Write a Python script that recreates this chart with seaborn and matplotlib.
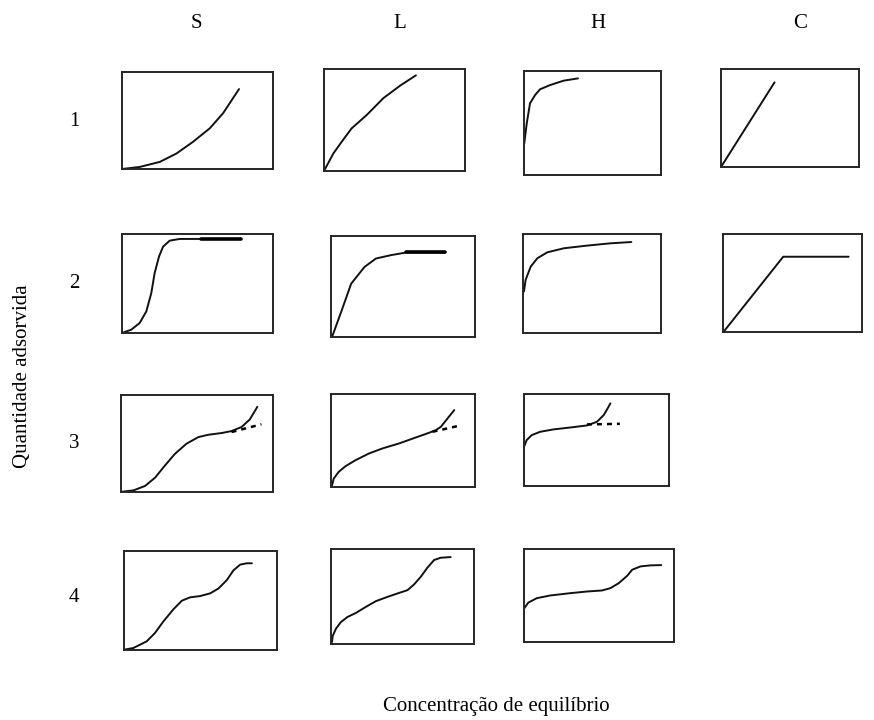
import numpy as np
import pandas as pd
import matplotlib
matplotlib.use("Agg")
import matplotlib.pyplot as plt
import seaborn as sns

sns.set_theme(style="white")
plt.rcParams['font.family'] = ['Liberation Serif', 'DejaVu Serif']

# ---------------- data (normalised: concentration x, amount adsorbed y) -------------
col_labels = ["S", "L", "H", "C"]
row_labels = ["1", "2", "3", "4"]
xlabel_text = "Concentração de equilíbrio"
ylabel_text = "Quantidade adsorvida"

s1_x = [0.0, 0.117, 0.250, 0.360, 0.470, 0.581, 0.669, 0.775]
s1_y = [0.0, 0.021, 0.073, 0.159, 0.280, 0.419, 0.574, 0.824]

l1_x = [0.0, 0.066, 0.125, 0.196, 0.303, 0.421, 0.539, 0.652]
l1_y = [0.0, 0.171, 0.286, 0.418, 0.549, 0.714, 0.836, 0.938]

h1_x = [0.002, 0.020, 0.044, 0.081, 0.117, 0.191, 0.289, 0.394]
h1_y = [0.304, 0.497, 0.689, 0.769, 0.824, 0.865, 0.907, 0.929]

c1_x = [0.0, 0.388]
c1_y = [0.0, 0.864]

s2_x = [0.0, 0.062, 0.117, 0.161, 0.194, 0.216, 0.245, 0.272, 0.316, 0.382, 0.525, 0.790]
s2_y = [0.0, 0.034, 0.101, 0.218, 0.403, 0.604, 0.772, 0.872, 0.933, 0.950, 0.950, 0.950]
s2_plateau_x = [0.525, 0.790]
s2_plateau_y = [0.950, 0.950]

l2_x = [0.008, 0.074, 0.140, 0.233, 0.312, 0.418, 0.524, 0.794]
l2_y = [0.003, 0.262, 0.528, 0.694, 0.777, 0.811, 0.837, 0.837]
l2_plateau_x = [0.524, 0.794]
l2_plateau_y = [0.837, 0.837]

h2_x = [0.007, 0.019, 0.056, 0.104, 0.176, 0.297, 0.466, 0.635, 0.785]
h2_y = [0.419, 0.537, 0.671, 0.755, 0.815, 0.856, 0.883, 0.906, 0.919]

c2_x = [0.007, 0.433, 0.904]
c2_y = [0.007, 0.768, 0.768]

s3_x = [0.007, 0.083, 0.159, 0.225, 0.288, 0.354, 0.430, 0.509, 0.574, 0.662, 0.727, 0.793, 0.847, 0.897]
s3_y = [0.003, 0.017, 0.063, 0.149, 0.271, 0.392, 0.497, 0.566, 0.590, 0.608, 0.628, 0.670, 0.747, 0.878]
s3_dash_x = [0.727, 0.924]
s3_dash_y = [0.618, 0.698]

l3_x = [0.007, 0.019, 0.053, 0.100, 0.170, 0.263, 0.356, 0.472, 0.588, 0.681, 0.728, 0.763, 0.809, 0.856]
l3_y = [0.018, 0.090, 0.162, 0.223, 0.288, 0.360, 0.414, 0.468, 0.532, 0.583, 0.612, 0.647, 0.737, 0.827]
l3_dash_x = [0.705, 0.879]
l3_dash_y = [0.594, 0.655]

h3_x = [0.0, 0.018, 0.053, 0.111, 0.203, 0.319, 0.434, 0.503, 0.550, 0.577, 0.596]
h3_y = [0.425, 0.498, 0.553, 0.589, 0.615, 0.636, 0.658, 0.698, 0.771, 0.844, 0.898]
h3_dash_x = [0.434, 0.661]
h3_dash_y = [0.669, 0.676]

s4_x = [0.0, 0.061, 0.148, 0.202, 0.257, 0.323, 0.378, 0.432, 0.498, 0.563, 0.618, 0.672, 0.716, 0.760, 0.803, 0.836]
s4_y = [0.003, 0.020, 0.087, 0.171, 0.288, 0.411, 0.498, 0.532, 0.545, 0.572, 0.622, 0.706, 0.806, 0.863, 0.876, 0.876]

l4_x = [0.007, 0.012, 0.035, 0.070, 0.116, 0.174, 0.244, 0.314, 0.395, 0.465, 0.535, 0.581, 0.628, 0.674, 0.721, 0.767, 0.837]
l4_y = [0.021, 0.085, 0.162, 0.232, 0.285, 0.327, 0.391, 0.451, 0.496, 0.532, 0.567, 0.627, 0.708, 0.803, 0.884, 0.908, 0.915]

h4_x = [0.002, 0.029, 0.085, 0.174, 0.308, 0.420, 0.520, 0.576, 0.632, 0.688, 0.721, 0.777, 0.844, 0.915]
h4_y = [0.363, 0.424, 0.471, 0.500, 0.525, 0.543, 0.554, 0.579, 0.633, 0.712, 0.777, 0.813, 0.824, 0.827]

# --------------- layout (pixel boxes: left, top, right, bottom) ----------------------
W, H = 874, 720
panels = [
    # (box, curve, thick overlay, dashed overlay)
    ((122, 72, 273, 169), (s1_x, s1_y), None, None),
    ((324, 69, 465, 171), (l1_x, l1_y), None, None),
    ((524, 71, 661, 175), (h1_x, h1_y), None, None),
    ((721, 69, 859, 167), (c1_x, c1_y), None, None),
    ((122, 234, 273, 333), (s2_x, s2_y), (s2_plateau_x, s2_plateau_y), None),
    ((331, 236, 475, 337), (l2_x, l2_y), (l2_plateau_x, l2_plateau_y), None),
    ((523, 234, 661, 333), (h2_x, h2_y), None, None),
    ((723, 234, 862, 332), (c2_x, c2_y), None, None),
    ((121, 395, 273, 492), (s3_x, s3_y), None, (s3_dash_x, s3_dash_y)),
    ((331, 394, 475, 487), (l3_x, l3_y), None, (l3_dash_x, l3_dash_y)),
    ((524, 394, 669, 486), (h3_x, h3_y), None, (h3_dash_x, h3_dash_y)),
    ((124, 551, 277, 650), (s4_x, s4_y), None, None),
    ((331, 549, 474, 644), (l4_x, l4_y), None, None),
    ((524, 549, 674, 642), (h4_x, h4_y), None, None),
]

fig = plt.figure(figsize=(W / 100, H / 100), dpi=100)
fig.patch.set_facecolor("white")

for (l, t, r, b), (cx, cy), thick, dashed in panels:
    ax = fig.add_axes([l / W, 1 - b / H, (r - l) / W, (b - t) / H])
    df = pd.DataFrame({"x": cx, "y": cy})
    sns.lineplot(data=df, x="x", y="y", ax=ax, color="#111111", linewidth=1.4,
                 sort=False, estimator=None, solid_joinstyle="round",
                 solid_capstyle="round")
    if thick is not None:
        dft = pd.DataFrame({"x": thick[0], "y": thick[1]})
        sns.lineplot(data=dft, x="x", y="y", ax=ax, color="black", linewidth=2.6,
                     sort=False, estimator=None)
    if dashed is not None:
        dfd = pd.DataFrame({"x": dashed[0], "y": dashed[1]})
        sns.lineplot(data=dfd, x="x", y="y", ax=ax, color="black", linewidth=1.8,
                     sort=False, estimator=None, linestyle=(0, (2.0, 2.0)))
    ax.set_xlim(0, 1)
    ax.set_ylim(0, 1)
    ax.set_xticks([])
    ax.set_yticks([])
    ax.set_xlabel("")
    ax.set_ylabel("")
    ax.set_facecolor("white")
    for sp in ax.spines.values():
        sp.set_visible(True)
        sp.set_color("#262626")
        sp.set_linewidth(1.4)

# column labels
col_x = [196, 400, 598, 800]
for lab, x in zip(col_labels, col_x):
    fig.text(x / W, 1 - 23 / H, lab, ha="center", va="center", fontsize=15, color="black")

# row labels
row_y = [121, 284, 443, 598]
for lab, y in zip(row_labels, row_y):
    fig.text(74 / W, 1 - y / H, lab, ha="center", va="center", fontsize=15, color="black")

fig.text(496 / W, 1 - 706 / H, xlabel_text, ha="center", va="center", fontsize=15, color="black")
fig.text(23 / W, 1 - 376 / H, ylabel_text, ha="center", va="center", fontsize=15,
         rotation=90, color="black")

fig.savefig("out.png", dpi=100, facecolor="white")
